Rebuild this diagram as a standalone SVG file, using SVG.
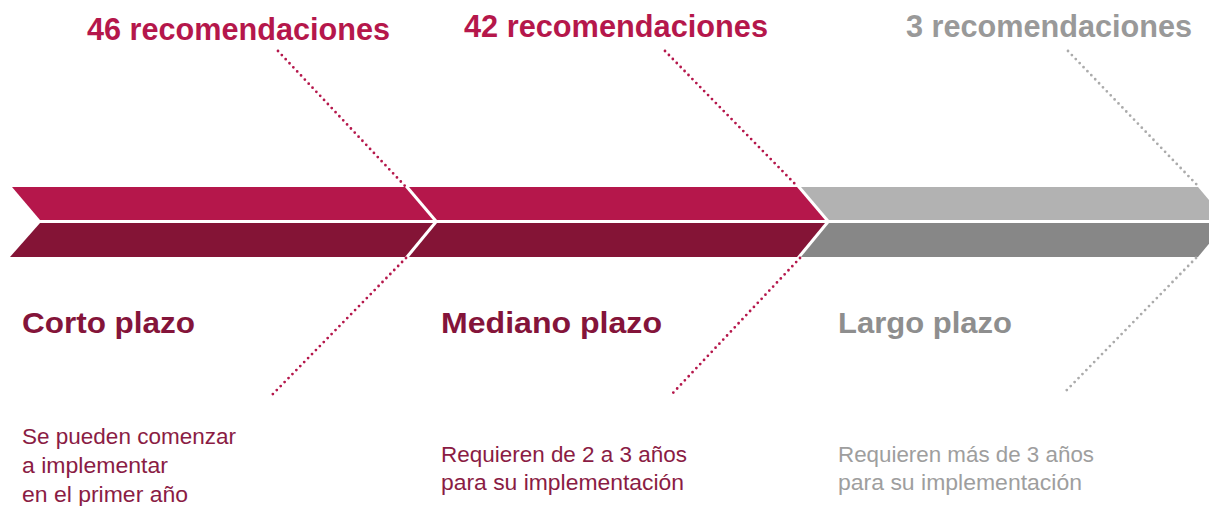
<svg xmlns="http://www.w3.org/2000/svg" width="1209" height="506" viewBox="0 0 1209 506">
  <style>
    .t{font-family:"Liberation Sans",Arial,sans-serif;font-weight:bold;font-size:31px}
    .h{font-family:"Liberation Sans",Arial,sans-serif;font-weight:bold;font-size:30px}
    .b{font-family:"Liberation Sans",Arial,sans-serif;font-size:22.5px}
    .red{fill:#B5174B}
    .dred{fill:#84143A}
    .bred{fill:#8A1C44}
    .gt{fill:#999999}
    .gh{fill:#8E8E8E}
    .gb{fill:#9E9E9E}
    .dot{fill:none;stroke-width:2.8;stroke-linecap:round;stroke-dasharray:0 5.6}
    .dr{stroke:#B5174B}
    .dg{stroke:#ABABAB}
  </style>
  <rect width="1209" height="506" fill="#ffffff"/>

  <g id="corto">
    <polygon points="12,187 405,187 433,220 40,220" fill="#B5174B"/>
    <polygon points="40,223 433,223 405,257 10,257" fill="#841436"/>
    <text class="t red" x="87" y="40" textLength="303" lengthAdjust="spacingAndGlyphs">46 recomendaciones</text>
    <text class="h dred" x="22" y="333" textLength="173" lengthAdjust="spacingAndGlyphs">Corto plazo</text>
    <text class="b bred" x="22" y="444" textLength="214" lengthAdjust="spacingAndGlyphs">Se pueden comenzar</text>
    <text class="b bred" x="22" y="473" textLength="146" lengthAdjust="spacingAndGlyphs">a implementar</text>
    <text class="b bred" x="22" y="502" textLength="166" lengthAdjust="spacingAndGlyphs">en el primer año</text>
  </g>

  <g id="mediano">
    <polygon points="409,187 797,187 825,220 437,220" fill="#B5174B"/>
    <polygon points="437,223 825,223 797,257 409,257" fill="#841436"/>
    <text class="t red" x="464" y="37" textLength="304" lengthAdjust="spacingAndGlyphs">42 recomendaciones</text>
    <text class="h dred" x="441" y="333" textLength="221" lengthAdjust="spacingAndGlyphs">Mediano plazo</text>
    <text class="b bred" x="441" y="462" textLength="246" lengthAdjust="spacingAndGlyphs">Requieren de 2 a 3 años</text>
    <text class="b bred" x="441" y="490" textLength="243" lengthAdjust="spacingAndGlyphs">para su implementación</text>
  </g>

  <g id="largo">
    <polygon points="801,187 1198,187 1226,220 829,220" fill="#B2B2B2"/>
    <polygon points="829,223 1226,223 1198,257 801,257" fill="#878787"/>
    <text class="t gt" x="906" y="37" textLength="286" lengthAdjust="spacingAndGlyphs">3 recomendaciones</text>
    <text class="h gh" x="838" y="333" textLength="174" lengthAdjust="spacingAndGlyphs">Largo plazo</text>
    <text class="b gb" x="838" y="462" textLength="256" lengthAdjust="spacingAndGlyphs">Requieren más de 3 años</text>
    <text class="b gb" x="838" y="490" textLength="244" lengthAdjust="spacingAndGlyphs">para su implementación</text>
  </g>

  <g id="connectors">
    <line class="dot dr" x1="278" y1="51" x2="405" y2="186"/>
    <line class="dot dr" x1="406" y1="258" x2="272" y2="395"/>
    <line class="dot dr" x1="665" y1="51" x2="797" y2="186"/>
    <line class="dot dr" x1="800" y1="258" x2="672" y2="394"/>
    <line class="dot dg" x1="1068" y1="51" x2="1198" y2="186"/>
    <line class="dot dg" x1="1196" y1="258" x2="1063" y2="394"/>
  </g>
</svg>
